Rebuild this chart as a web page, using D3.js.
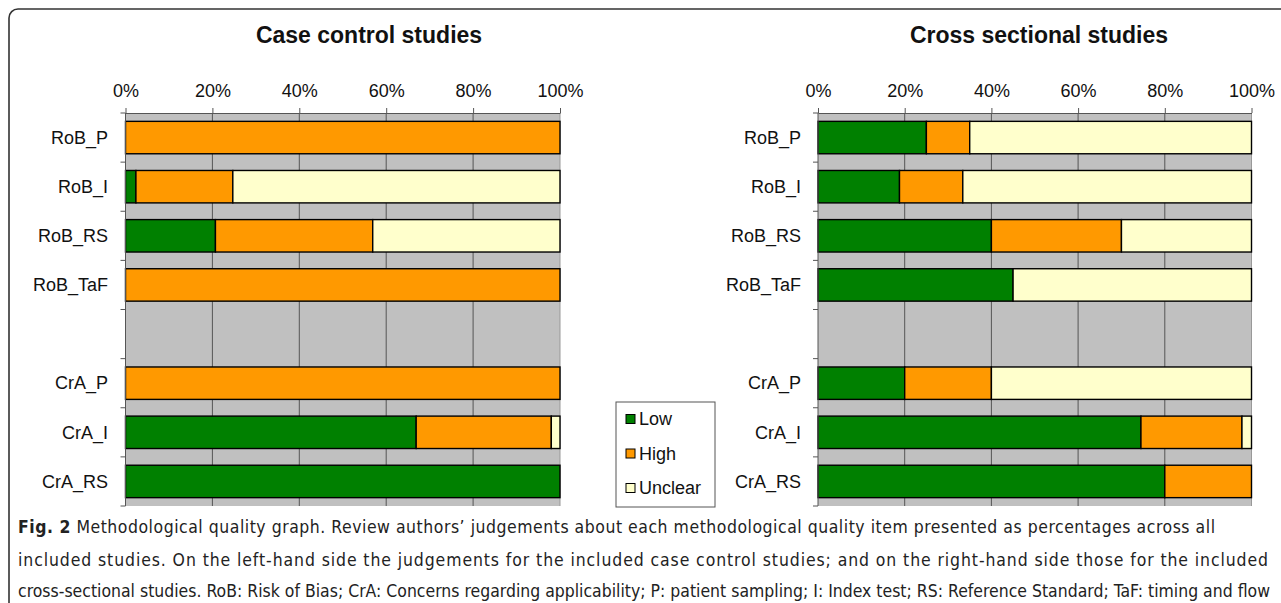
<!DOCTYPE html>
<html>
<head>
<meta charset="utf-8">
<script src="https://cdn.jsdelivr.net/npm/d3@7"></script>
<style>
  body { margin: 0; background: #fff; }
  svg { display: block; }
</style>
</head>
<body>
<div id="chart"></div>
<script>
// categories (blank row separates the two groups)
const categories = ["RoB_P", "RoB_I", "RoB_RS", "RoB_TaF", "", "CrA_P", "CrA_I", "CrA_RS"];
const levels = ["Low", "High", "Unclear"];
const xTicks = [0, 20, 40, 60, 80, 100];

// case control studies (percent)
const caseLow     = [0,   2.4, 20.7, 0,   null, 0,   66.9, 100];
const caseHigh    = [100, 22.3, 36.2, 100, null, 100, 31.1, 0];
const caseUnclear = [0,   75.3, 43.1, 0,   null, 0,   2.0,  0];

// cross sectional studies (percent)
const crossLow     = [25, 18.8, 40, 45, null, 20, 74.5, 80];
const crossHigh    = [10, 14.6, 30, 0,  null, 20, 23.3, 20];
const crossUnclear = [65, 66.6, 30, 55, null, 60, 2.2,  0];

const captionLines = [
  ["Fig. 2", " Methodological quality graph. Review authors\u2019 judgements about each methodological quality item presented as percentages across all"],
  ["", "included studies. On the left-hand side the judgements for the included case control studies; and on the right-hand side those for the included"],
  ["", "cross-sectional studies. RoB: Risk of Bias; CrA: Concerns regarding applicability; P: patient sampling; I: Index test; RS: Reference Standard; TaF: timing and flow"]
];

const colors = { Low: "#008000", High: "#FF9900", Unclear: "#FFFFCC" };

const width = 1281, height = 603;
const svg = d3.select("#chart").append("svg")
  .attr("width", width)
  .attr("height", height);

// outer frame
svg.append("rect")
  .attr("x", 9).attr("y", 9)
  .attr("width", 1300).attr("height", 640)
  .attr("rx", 9)
  .attr("fill", "none")
  .attr("stroke", "#333")
  .attr("stroke-width", 1.6);

const font = "'Liberation Sans', Arial, sans-serif";

function toRows(low, high, unclear) {
  return categories.map((c, i) => ({
    cat: c,
    Low: low[i] || 0,
    High: high[i] || 0,
    Unclear: unclear[i] || 0,
    empty: low[i] === null
  }));
}

function drawPanel(opts) {
  const rows = toRows(opts.low, opts.high, opts.unclear);
  const x = d3.scaleLinear().domain([0, 100]).range([opts.x0, opts.x1]);
  const y = d3.scaleBand().domain(categories).range([113, 506])
    .paddingInner(0.34).paddingOuter(0.17);

  const g = svg.append("g");

  // title
  g.append("text")
    .attr("x", opts.titleX).attr("y", 43)
    .attr("text-anchor", "middle")
    .attr("font-family", font)
    .attr("font-weight", "bold")
    .attr("font-size", 23)
    .attr("fill", "#111")
    .text(opts.title);

  // plot background
  g.append("rect")
    .attr("x", x(0)).attr("y", 113)
    .attr("width", x(100) - x(0)).attr("height", 506 - 113)
    .attr("fill", "#C0C0C0");

  // vertical grid
  g.selectAll(".grid")
    .data(xTicks.slice(1, -1))
    .join("line")
    .attr("x1", d => x(d)).attr("x2", d => x(d))
    .attr("y1", 113).attr("y2", 506)
    .attr("stroke", "#555")
    .attr("stroke-width", 1);

  g.append("line")
    .attr("x1", x(100)).attr("x2", x(100))
    .attr("y1", 113).attr("y2", 506)
    .attr("stroke", "#999");

  // stacked bars
  const stack = d3.stack().keys(levels);
  const series = stack(rows.filter(r => !r.empty));
  series.forEach(s => {
    g.selectAll(null)
      .data(s.filter(d => d[1] - d[0] > 0))
      .join("rect")
      .attr("x", d => x(d[0]))
      .attr("y", d => y(d.data.cat))
      .attr("width", d => x(d[1]) - x(d[0]))
      .attr("height", y.bandwidth())
      .attr("fill", colors[s.key])
      .attr("stroke", "#000")
      .attr("stroke-width", 1.4);
  });

  // top axis
  const axis = g.append("g")
    .attr("transform", "translate(0,113)")
    .call(d3.axisTop(x).tickValues(xTicks).tickFormat(d => d + "%")
      .tickSize(5).tickSizeOuter(0).tickPadding(11));
  axis.select(".domain").attr("stroke", "#555");
  axis.selectAll(".tick line").attr("stroke", "#555");
  axis.selectAll("text")
    .attr("font-family", font)
    .attr("font-size", 18)
    .attr("fill", "#111");

  // left axis: line, ticks at band boundaries, labels
  g.append("line")
    .attr("x1", x(0)).attr("x2", x(0))
    .attr("y1", 113).attr("y2", 506)
    .attr("stroke", "#555");
  const step = y.step();
  g.selectAll(".ytick")
    .data(d3.range(categories.length + 1))
    .join("line")
    .attr("x1", x(0) - 5).attr("x2", x(0))
    .attr("y1", i => 113 + i * step).attr("y2", i => 113 + i * step)
    .attr("stroke", "#555");
  g.selectAll(".ylab")
    .data(categories.filter(c => c !== ""))
    .join("text")
    .attr("x", opts.labelX)
    .attr("y", c => y(c) + y.bandwidth() / 2)
    .attr("dy", "0.35em")
    .attr("text-anchor", "end")
    .attr("font-family", font)
    .attr("font-size", 18)
    .attr("fill", "#111")
    .text(c => c);
}

drawPanel({ title: "Case control studies", titleX: 369, x0: 125.5, x1: 560, labelX: 108,
  low: caseLow, high: caseHigh, unclear: caseUnclear });
drawPanel({ title: "Cross sectional studies", titleX: 1039, x0: 818, x1: 1251.5, labelX: 801,
  low: crossLow, high: crossHigh, unclear: crossUnclear });

// legend
const legend = svg.append("g");
legend.append("rect")
  .attr("x", 616).attr("y", 402)
  .attr("width", 99).attr("height", 105)
  .attr("fill", "#fff")
  .attr("stroke", "#555");
levels.forEach((k, i) => {
  const cy = 419 + i * 34.5;
  legend.append("rect")
    .attr("x", 626).attr("y", cy - 4.5)
    .attr("width", 9).attr("height", 9)
    .attr("fill", colors[k])
    .attr("stroke", "#000");
  legend.append("text")
    .attr("x", 639).attr("y", cy)
    .attr("dy", "0.35em")
    .attr("font-family", font)
    .attr("font-size", 18)
    .attr("fill", "#111")
    .text(k);
});

// caption: one shared size that lets every line fit, then spacing stretched to each line's end
const capEnds = [1215, 1268, 1270];
const capY = [533, 566, 597];
const capTexts = captionLines.map((ln, i) => {
  const t = svg.append("text")
    .attr("x", 18).attr("y", capY[i])
    .attr("font-family", "'DejaVu Sans Condensed', 'Open Sans', sans-serif")
    .attr("font-size", 20)
    .attr("fill", "#222");
  if (ln[0]) t.append("tspan").attr("font-weight", "bold").text(ln[0]);
  t.append("tspan").text(ln[1]);
  return t;
});
const capSize = d3.min(capTexts, (t, i) => 20 * (capEnds[i] - 18) / t.node().getComputedTextLength());
capTexts.forEach((t, i) => {
  t.attr("font-size", capSize.toFixed(2));
  const target = capEnds[i] - 18;
  if (t.node().getComputedTextLength() < target) {
    t.attr("textLength", target).attr("lengthAdjust", "spacing");
  }
});
</script>
</body>
</html>
